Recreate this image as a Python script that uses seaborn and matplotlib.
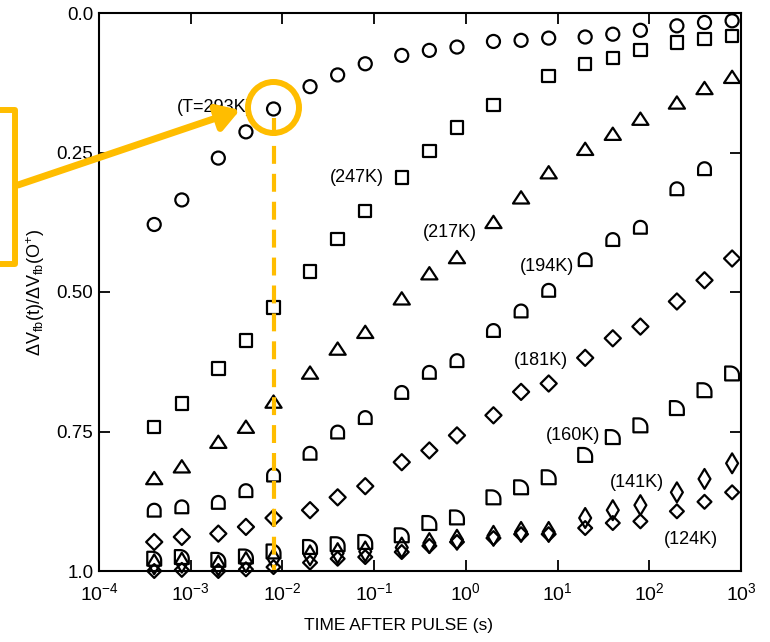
import numpy as np
import pandas as pd
import matplotlib
matplotlib.use("Agg")
import matplotlib.pyplot as plt
from matplotlib.path import Path
from matplotlib.patches import Rectangle, Circle, FancyArrowPatch
from matplotlib.lines import Line2D
import seaborn as sns

# time after the pulse (s)
times = [4e-4, 8e-4, 2e-3, 4e-3, 8e-3, 2e-2, 4e-2, 8e-2, 0.2, 0.4, 0.8,
         2, 4, 8, 20, 40, 80, 200, 400, 800]

# dVfb(t)/dVfb(0+), one list per temperature (nan = no point)
v293 = [0.379, 0.335, 0.260, 0.213, 0.172, 0.132, 0.111, 0.091, 0.076, 0.067,
        0.061, 0.051, 0.049, 0.045, 0.043, 0.038, 0.031, 0.023, 0.017, 0.014]
v247 = [0.742, 0.700, 0.637, 0.587, 0.528, 0.463, 0.405, 0.355, 0.295, 0.247,
        0.205, 0.165, np.nan, 0.113, 0.091, 0.081, 0.066, 0.053, 0.047, 0.041]
v217 = [0.834, 0.813, 0.769, 0.742, 0.697, 0.645, 0.602, 0.572, 0.512, 0.467,
        0.438, 0.375, 0.331, 0.286, 0.244, 0.217, 0.190, 0.161, 0.135, 0.115]
v194 = [0.891, 0.885, 0.877, 0.856, 0.828, 0.789, 0.751, 0.725, 0.680, 0.644,
        0.623, 0.569, 0.534, 0.497, 0.442, 0.406, 0.384, 0.315, 0.279, np.nan]
v181 = [0.948, 0.939, 0.933, 0.921, 0.905, 0.891, 0.868, 0.848, 0.805, 0.784,
        0.757, 0.721, 0.679, 0.664, 0.618, 0.583, 0.562, 0.517, 0.479, 0.440]
v160 = [0.978, 0.975, 0.980, 0.974, 0.965, 0.957, 0.952, 0.948, 0.936, 0.914,
        0.904, 0.868, 0.850, 0.832, 0.792, 0.760, 0.739, 0.708, 0.676, 0.646]
v141 = [0.988, 0.985, 0.990, 0.984, 0.978, 0.972, 0.968, 0.965, 0.958, 0.950,
        0.944, 0.937, 0.930, 0.930, 0.905, 0.891, 0.882, 0.859, 0.835, 0.807]
v124 = [1.000, 0.998, 1.000, 0.997, 0.993, 0.985, 0.978, 0.975, 0.966, 0.955,
        0.948, 0.941, 0.934, 0.934, 0.923, 0.914, 0.911, 0.893, 0.876, 0.859]

temps = ["293K", "247K", "217K", "194K", "181K", "160K", "141K", "124K"]
series = [v293, v247, v217, v194, v181, v160, v141, v124]

# curve labels as printed on the figure
labels = ["(T=293K)", "(247K)", "(217K)", "(194K)", "(181K)", "(160K)", "(141K)", "(124K)"]
label_pos = [(1.84e-3, 0.170), (0.065, 0.295), (0.67, 0.394), (7.7, 0.454),
             (6.6, 0.623), (14.8, 0.757), (73.6, 0.841), (286, 0.943)]

rows = []
for temp, vals in zip(temps, series):
    for t, v in zip(times, vals):
        rows.append({"time": t, "dv": v, "temp": temp})
df = pd.DataFrame(rows).dropna()


def closed(pts):
    pts = list(pts) + [pts[0]]
    return Path(pts, closed=True)


arc = np.linspace(0, np.pi, 24)
dome = closed([(-1, -1), (1, -1)] + [(np.cos(a), np.sin(a)) for a in arc])
q = np.linspace(0, np.pi / 2, 16)
quarter = closed([(-1, -1), (1, -1)]
                 + [(-0.25 + 1.25 * np.cos(a), -0.25 + 1.25 * np.sin(a)) for a in q]
                 + [(-1, 1)])
tri = closed([(-1, -0.72), (1, -0.72), (0, 0.8)])
diamond = closed([(0, 1), (1, 0), (0, -1), (-1, 0)])
tall = closed([(0, 1), (0.6, 0), (0, -1), (-0.6, 0)])

markers = {"293K": ("o", 88), "247K": ("s", 80), "217K": (tri, 135),
           "194K": (dome, 85), "181K": (diamond, 135), "160K": (quarter, 100),
           "141K": (tall, 205), "124K": (diamond, 100)}

sns.set_style("ticks")
plt.rcParams["font.family"] = ["Liberation Sans", "DejaVu Sans"]
plt.rcParams["mathtext.fontset"] = "custom"
plt.rcParams["mathtext.rm"] = "Liberation Sans"
plt.rcParams["mathtext.it"] = "Liberation Sans:italic"
plt.rcParams["mathtext.default"] = "regular"
plt.rcParams["text.color"] = "black"
plt.rcParams["axes.labelcolor"] = "black"

fig = plt.figure(figsize=(7.7, 6.42), dpi=100)
ax = fig.add_axes([99 / 770, 1 - 571 / 642, 642 / 770, 558 / 642])

for temp in temps:
    m, s = markers[temp]
    sns.scatterplot(data=df[df["temp"] == temp], x="time", y="dv", marker=m, s=s,
                    facecolors="none", edgecolor="black", linewidth=1.6,
                    clip_on=False, zorder=3, legend=False, ax=ax)

ax.set_xscale("log")
ax.set_xlim(1e-4, 1e3)
ax.set_ylim(1.0, 0.0)
ax.set_xticks([10.0 ** k for k in range(-4, 4)])
ax.minorticks_off()
ax.set_yticks([0, 0.25, 0.5, 0.75, 1.0])
ax.set_yticklabels(["0.0", "0.25", "0.50", "0.75", "1.0"])
ax.tick_params(which="major", direction="in", length=8, width=1.3,
               top=True, right=True, labelsize=13.5, colors="black")
ax.tick_params(axis="x", pad=8, labelsize=14)
ax.tick_params(axis="y", pad=4)
for sp in ax.spines.values():
    sp.set_linewidth(1.5)
    sp.set_color("black")

ax.set_xlabel("TIME AFTER PULSE (s)", fontsize=12.5, color="black")
ax.xaxis.set_label_coords(0.467, -0.084)
ax.set_ylabel(r"$\Delta$V$_{fb}$(t)/$\Delta$V$_{fb}$(O$^{+}$)", fontsize=13,
              color="black")
ax.yaxis.set_label_coords(-0.081, 0.5)

for txt, (x, y) in zip(labels, label_pos):
    ax.text(x, y, txt, ha="center", va="center", fontsize=13, color="black",
            zorder=4)

# orange highlight drawn over the figure (pixel positions -> inches)
orange = "#FFBD00"
H = 642


def inch(px, py):
    return px / 100, (H - py) / 100


tr = fig.dpi_scale_trans
x0, y0 = inch(-60, 264)
fig.add_artist(Rectangle((x0, y0), 0.75, 1.54, transform=tr, fill=False,
                         ec=orange, lw=4.3, joinstyle="round", zorder=10))
fig.add_artist(FancyArrowPatch(inch(18, 185), inch(240, 110), transform=tr,
                               arrowstyle="-|>,head_length=13,head_width=8",
                               mutation_scale=1, lw=5, color=orange,
                               shrinkA=0, shrinkB=0, zorder=10))
fig.add_artist(Circle(inch(273.5, 107.5), 0.255, transform=tr, fill=False,
                      ec=orange, lw=4.3, zorder=10))
xa, ya = inch(273.5, 118)
_, yb = inch(273.5, 570)
fig.add_artist(Line2D([xa, xa], [ya, yb], transform=tr, color=orange, lw=3,
                      dashes=(4.3, 2.4), zorder=10))

fig.savefig("out.png", dpi=100)
